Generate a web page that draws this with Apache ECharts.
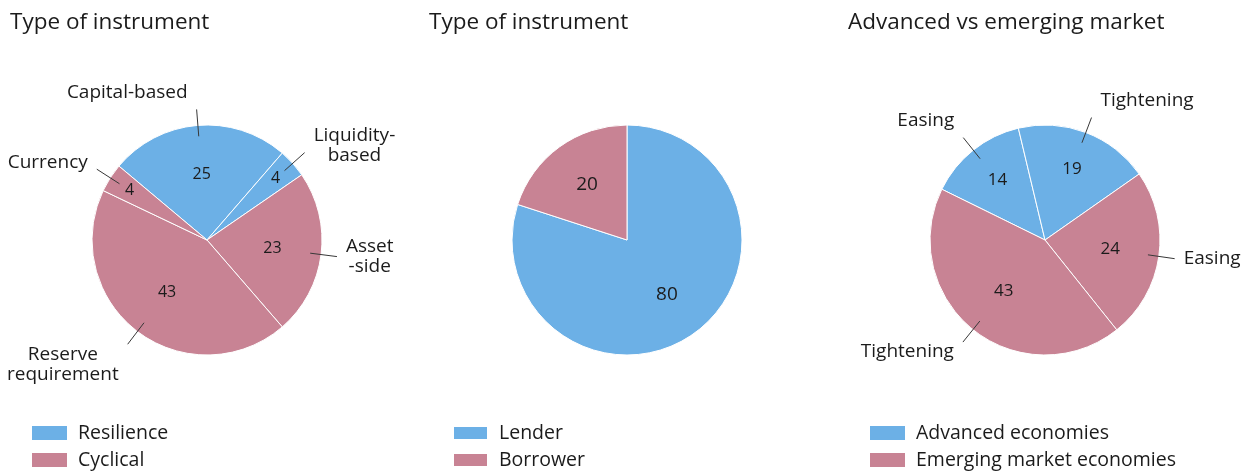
<!DOCTYPE html>
<html>
<head>
<meta charset="utf-8">
<script src="https://cdn.jsdelivr.net/npm/echarts@6/dist/echarts.min.js"></script>
<style>
  html, body { margin: 0; padding: 0; background: #ffffff; }
  #chart { width: 1258px; height: 472px; }
</style>
</head>
<body>
<div id="chart"></div>
<script>
// ---- Data -----------------------------------------------------------------

// Panel 1: instruments by type
const instrumentTitle = 'Type of instrument';
const instrumentNames = ['Capital-based', 'Liquidity-\nbased', 'Asset\n-side', 'Reserve\nrequirement', 'Currency'];
const instrumentValues = [25, 4, 23, 43, 4];
const instrumentGroups = ['Resilience', 'Resilience', 'Cyclical', 'Cyclical', 'Cyclical'];
const instrumentLegend = ['Resilience', 'Cyclical'];

// Panel 2: lender- vs borrower-based instruments
const sideTitle = 'Type of instrument';
const sideNames = ['Lender', 'Borrower'];
const sideValues = [80, 20];
const sideGroups = ['Lender', 'Borrower'];
const sideLegend = ['Lender', 'Borrower'];

// Panel 3: advanced vs emerging market economies
const marketTitle = 'Advanced vs emerging market';
const marketNames = ['Easing', 'Tightening', 'Easing', 'Tightening'];
const marketValues = [14, 19, 24, 43];
const marketGroups = ['Advanced economies', 'Advanced economies',
                      'Emerging market economies', 'Emerging market economies'];
const marketLegend = ['Advanced economies', 'Emerging market economies'];

// ---- Styling --------------------------------------------------------------

const BLUE = '#6cb0e6';
const PINK = '#c88394';
const TEXT = '#1b1b1b';
const FONT = '"Open Sans", "Noto Sans", "DejaVu Sans", sans-serif';
const RADIUS = 115;
const CENTER_Y = 240;
const LEADER_START = 104;   // leader lines begin inside the slice
const LEADER_LENGTH = 27;

const panels = [
  { title: instrumentTitle, names: instrumentNames, values: instrumentValues,
    groups: instrumentGroups, legend: instrumentLegend, showNames: true,
    cx: 207, titleX: 10, legendX: 32, startAngle: 140,
    nearR: 63, farR: 89, farBelow: 10, valueFont: 16 },
  { title: sideTitle, names: sideNames, values: sideValues,
    groups: sideGroups, legend: sideLegend, showNames: false,
    cx: 627, titleX: 429, legendX: 452, startAngle: 90,
    nearR: 65, farR: 65, farBelow: 0, valueFont: 19 },
  { title: marketTitle, names: marketNames, values: marketValues,
    groups: marketGroups, legend: marketLegend, showNames: true,
    cx: 1045, titleX: 848, legendX: 870, startAngle: 153.8,
    nearR: 63, farR: 73, farBelow: 20, valueFont: 17 }
];

// Multi-line labels: each line centred inside the label block
function nameFormatter(params) {
  return params.name.split('\n').map(s => '{n|' + s + '}').join('\n');
}

// Labels on rising leader lines sit a little higher; steep lines put the
// text above / below the line end
function leaderLabelLayout(params) {
  const pts = params.labelLinePoints;
  if (!pts || pts.length < 2) return {};
  const vx = pts[1][0] - pts[0][0];
  const vy = pts[1][1] - pts[0][1];
  const out = {};
  if (vy < 0) out.dy = -7;
  if (vy < -1.2 * Math.abs(vx)) out.verticalAlign = 'bottom';
  if (vy > 1.2 * Math.abs(vx)) out.verticalAlign = 'top';
  return out;
}

const series = [];
const title = [];
const legend = [];

panels.forEach(p => {
  const colorOf = g => (p.legend.indexOf(g) === 0 ? BLUE : PINK);
  const base = {
    type: 'pie',
    center: [p.cx, CENTER_Y],
    startAngle: p.startAngle,
    clockwise: true,
    silent: true,
    animation: false,
    avoidLabelOverlap: false,
    emphasis: { disabled: true }
  };

  // visible slices
  series.push(Object.assign({}, base, {
    radius: [0, RADIUS],
    itemStyle: { borderColor: '#ffffff', borderWidth: 1 },
    label: { show: false },
    labelLine: { show: false },
    data: p.names.map((n, k) => ({
      name: n, value: p.values[k], itemStyle: { color: colorOf(p.groups[k]) }
    }))
  }));

  // value labels: larger slices nearer the centre, thin slices further out
  [['near', p.nearR], ['far', p.farR]].forEach(([layer, r]) => {
    series.push(Object.assign({}, base, {
      radius: [0, 2 * r],
      itemStyle: { color: 'transparent', borderWidth: 0 },
      labelLine: { show: false },
      label: {
        position: 'inside', formatter: '{c}', fontSize: p.valueFont,
        fontFamily: FONT, color: TEXT
      },
      data: p.names.map((n, k) => ({
        name: n, value: p.values[k],
        itemStyle: { color: 'transparent' },
        label: { show: (p.values[k] < p.farBelow) === (layer === 'far') }
      }))
    }));
  });

  // category labels with straight leader lines
  if (p.showNames) {
    series.push(Object.assign({}, base, {
      radius: [0, LEADER_START],
      z: 5,
      itemStyle: { color: 'transparent', borderWidth: 0 },
      label: {
        show: true, position: 'outside', formatter: nameFormatter,
        distanceToLabelLine: 9,
        rich: { n: { align: 'center', fontSize: 19, fontFamily: FONT, color: TEXT, lineHeight: 20 } }
      },
      labelLine: {
        show: true, length: LEADER_LENGTH, length2: 0,
        lineStyle: { color: '#383838', width: 1 }
      },
      labelLayout: leaderLabelLayout,
      data: p.names.map((n, k) => ({
        name: n, value: p.values[k], itemStyle: { color: 'transparent' }
      }))
    }));
  }

  // legend entries for the colour groups
  if (p.legend.some(g => p.names.indexOf(g) < 0)) {
    series.push(Object.assign({}, base, {
      radius: [0, 0],
      stillShowZeroSum: false,
      label: { show: false },
      labelLine: { show: false },
      data: p.legend.map(g => ({ name: g, value: 0, itemStyle: { color: colorOf(g) } }))
    }));
  }

  title.push({
    text: p.title, left: p.titleX, top: 11, padding: 0,
    textStyle: { fontSize: 22.5, fontWeight: 'normal', fontFamily: FONT, color: TEXT }
  });

  legend.push({
    data: p.legend, left: p.legendX, top: 423, height: 80, padding: 0,
    orient: 'vertical',
    icon: 'rect', itemWidth: 35, itemHeight: 14, itemGap: 7,
    selectedMode: false,
    textStyle: { fontSize: 19.5, fontFamily: FONT, color: TEXT, padding: [0, 0, 0, 6] }
  });
});

const chart = echarts.init(document.getElementById('chart'), null, { renderer: 'canvas' });
chart.setOption({
  backgroundColor: '#ffffff',
  animation: false,
  textStyle: { fontFamily: FONT },
  title: title,
  legend: legend,
  series: series
});
</script>
</body>
</html>
